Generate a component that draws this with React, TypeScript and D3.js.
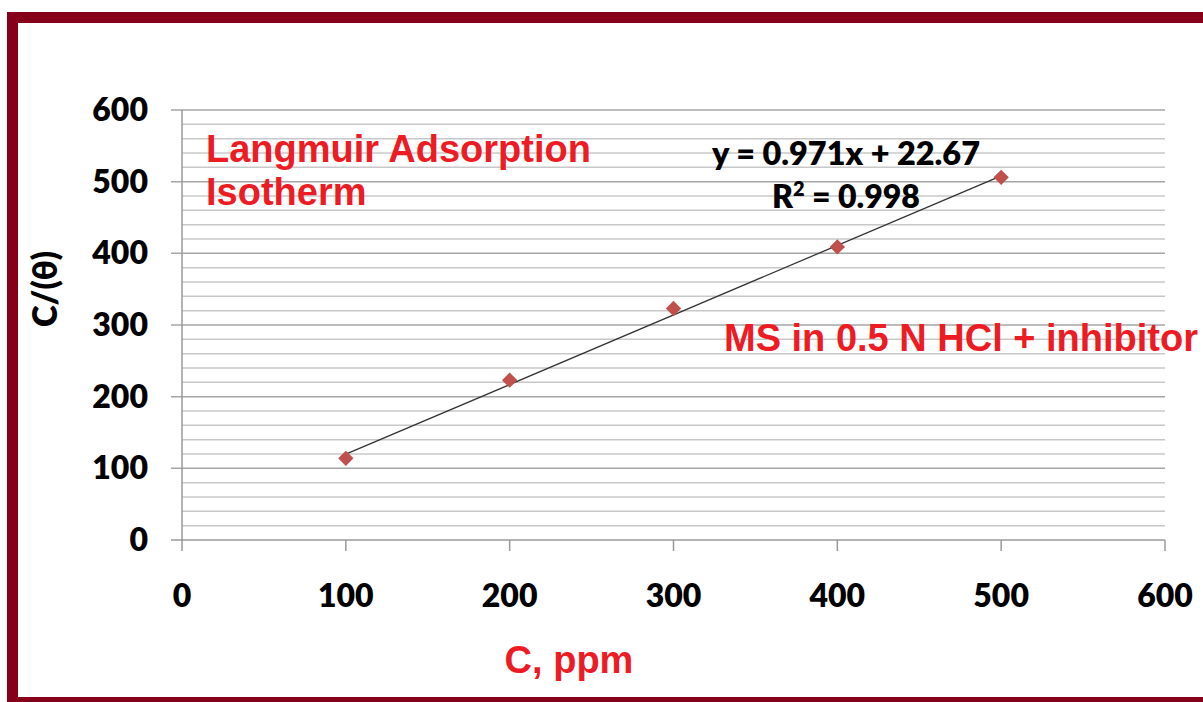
import React, { useRef, useEffect } from "react";
import * as d3 from "d3";

// concentration (ppm) and C/θ
const concentrations = [100, 200, 300, 400, 500];
const cOverTheta = [114, 223, 323, 409, 506];
const axisTicks = [0, 100, 200, 300, 400, 500, 600];
const slope = 0.971;
const intercept = 22.67;
const rSquared = 0.998;

export default function App() {
    const svgRef = useRef<SVGSVGElement | null>(null);

    useEffect(() => {
        if (!svgRef.current) return;

        const width = 1203;
        const height = 702;
        const tickFont = "Lato, 'Open Sans', sans-serif";
        const redFont = "'Liberation Sans', Arial, sans-serif";
        const red = "#ED1C24";

        const svg = d3.select(svgRef.current);
        svg.selectAll("*").remove();

        svg.append("rect")
            .attr("width", width)
            .attr("height", height)
            .attr("fill", "#fff");

        // frame
        svg.append("rect")
            .attr("x", 12.5)
            .attr("y", 17.5)
            .attr("width", 1300)
            .attr("height", 685)
            .attr("fill", "none")
            .attr("stroke", "#850018")
            .attr("stroke-width", 11);

        const x = d3.scaleLinear().domain([0, 600]).range([182, 1165]);
        const y = d3.scaleLinear().domain([0, 600]).range([540, 110]);

        // gridlines, minor every 20
        const minor = d3.range(20, 600, 20).filter((v) => v % 100 !== 0);
        svg.append("g")
            .selectAll("line")
            .data(minor)
            .join("line")
            .attr("x1", x(0))
            .attr("x2", x(600))
            .attr("y1", (d) => y(d))
            .attr("y2", (d) => y(d))
            .attr("stroke", "#c8c8c8")
            .attr("stroke-width", 1.5);

        svg.append("g")
            .selectAll("line")
            .data(axisTicks.filter((v) => v > 0))
            .join("line")
            .attr("x1", x(0) - 11)
            .attr("x2", x(600))
            .attr("y1", (d) => y(d))
            .attr("y2", (d) => y(d))
            .attr("stroke", "#a6a6a6")
            .attr("stroke-width", 1.5);

        // axes
        const axisColor = "#9a9a9a";
        svg.append("line")
            .attr("x1", x(0) - 11)
            .attr("x2", x(600))
            .attr("y1", y(0))
            .attr("y2", y(0))
            .attr("stroke", axisColor)
            .attr("stroke-width", 1.5);
        svg.append("line")
            .attr("x1", x(0))
            .attr("x2", x(0))
            .attr("y1", y(600))
            .attr("y2", y(0))
            .attr("stroke", axisColor)
            .attr("stroke-width", 1.5);
        svg.append("g")
            .selectAll("line")
            .data(axisTicks)
            .join("line")
            .attr("x1", (d) => x(d))
            .attr("x2", (d) => x(d))
            .attr("y1", y(0))
            .attr("y2", y(0) + 11)
            .attr("stroke", axisColor)
            .attr("stroke-width", 1.5);

        // tick labels
        svg.append("g")
            .selectAll("text")
            .data(axisTicks)
            .join("text")
            .attr("x", 148)
            .attr("y", (d) => y(d) + 11)
            .attr("text-anchor", "end")
            .attr("font-family", tickFont)
            .attr("font-weight", 800)
            .attr("font-size", 32)
            .text((d) => d);

        svg.append("g")
            .selectAll("text")
            .data(axisTicks)
            .join("text")
            .attr("x", (d) => x(d))
            .attr("y", 607)
            .attr("text-anchor", "middle")
            .attr("font-family", tickFont)
            .attr("font-weight", 800)
            .attr("font-size", 32)
            .text((d) => d);

        // trendline
        const xMin = d3.min(concentrations) as number;
        const xMax = d3.max(concentrations) as number;
        svg.append("line")
            .attr("x1", x(xMin))
            .attr("y1", y(slope * xMin + intercept))
            .attr("x2", x(xMax))
            .attr("y2", y(slope * xMax + intercept))
            .attr("stroke", "#333")
            .attr("stroke-width", 1.3);

        // markers
        const diamond = d3.symbol().type(d3.symbolDiamond2).size(150);
        svg.append("g")
            .selectAll("path")
            .data(concentrations)
            .join("path")
            .attr("d", diamond)
            .attr("transform", (d, i) => `translate(${x(d)},${y(cOverTheta[i])})`)
            .attr("fill", "#C0504D");

        // equation
        svg.append("text")
            .attr("x", 712)
            .attr("y", 165)
            .attr("textLength", 268)
            .attr("lengthAdjust", "spacingAndGlyphs")
            .attr("font-family", tickFont)
            .attr("font-weight", 800)
            .attr("font-size", 32)
            .text(`y = ${slope}x + ${intercept}`);

        const r2 = svg.append("text")
            .attr("x", 772)
            .attr("y", 208)
            .attr("font-family", tickFont)
            .attr("font-weight", 800)
            .attr("font-size", 32);
        r2.append("tspan").text("R");
        r2.append("tspan").attr("dy", -12).attr("font-size", 20).text("2");
        r2.append("tspan").attr("dy", 12).text(` = ${rSquared}`);

        // red annotations
        const redText = (tx: number, ty: number, s: string) =>
            svg.append("text")
                .attr("x", tx)
                .attr("y", ty)
                .attr("fill", red)
                .attr("font-family", redFont)
                .attr("font-weight", 700)
                .attr("font-size", 38)
                .text(s);

        redText(206, 162, "Langmuir Adsorption");
        redText(206, 205, "Isotherm");
        redText(724, 351, "MS in 0.5 N HCl + inhibitor");
        redText(569, 673, "C, ppm").attr("text-anchor", "middle");

        // y axis title
        svg.append("text")
            .attr("transform", "translate(57,289) rotate(-90)")
            .attr("text-anchor", "middle")
            .attr("font-family", tickFont)
            .attr("font-weight", 800)
            .attr("font-size", 33)
            .text("C/(θ)");
    }, []);

    return (
        <svg
            ref={svgRef}
            width={1203}
            height={702}
            style={{ position: "absolute", left: 0, top: 0 }}
        ></svg>
    );
}
